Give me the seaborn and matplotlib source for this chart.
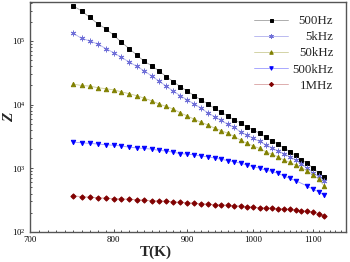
import numpy as np
import pandas as pd
import matplotlib
matplotlib.use("Agg")
import matplotlib.pyplot as plt
import matplotlib.ticker as mticker
import seaborn as sns

# temperatures (K), 10 K step
temps = list(range(750, 1130, 10))
temps_500k = [t for t in temps if t != 1080]

# log10(Z)
logz_500hz = [5.55, 5.47, 5.37, 5.27, 5.19, 5.09, 4.98, 4.88, 4.78, 4.68,
              4.61, 4.53, 4.44, 4.36, 4.28, 4.21, 4.14, 4.07, 4.01, 3.94,
              3.88, 3.82, 3.76, 3.71, 3.65, 3.60, 3.55, 3.49, 3.43, 3.38,
              3.32, 3.26, 3.20, 3.13, 3.08, 3.00, 2.93, 2.86]
logz_5khz = [5.12, 5.04, 5.00, 4.95, 4.88, 4.815, 4.74, 4.67, 4.60, 4.53,
             4.45, 4.37, 4.29, 4.21, 4.14, 4.07, 4.01, 3.94, 3.87, 3.81,
             3.75, 3.69, 3.64, 3.57, 3.52, 3.47, 3.42, 3.37, 3.32, 3.27,
             3.23, 3.18, 3.13, 3.07, 3.00, 2.93, 2.87, 2.80]
logz_50khz = [4.32, 4.30, 4.29, 4.265, 4.25, 4.23, 4.20, 4.17, 4.14, 4.10,
              4.06, 4.01, 3.97, 3.93, 3.87, 3.82, 3.77, 3.72, 3.68, 3.63,
              3.59, 3.55, 3.50, 3.44, 3.39, 3.35, 3.31, 3.26, 3.22, 3.18,
              3.13, 3.09, 3.05, 3.01, 2.96, 2.895, 2.83, 2.72]
logz_500khz = [3.41, 3.40, 3.39, 3.38, 3.37, 3.36, 3.35, 3.33, 3.32, 3.31,
               3.30, 3.28, 3.27, 3.25, 3.23, 3.22, 3.21, 3.19, 3.18, 3.16,
               3.14, 3.12, 3.10, 3.08, 3.05, 3.025, 3.00, 2.97, 2.95, 2.92,
               2.88, 2.84, 2.805, 2.72, 2.67, 2.63, 2.58]
logz_1mhz = [2.565, 2.554, 2.545, 2.538, 2.529, 2.523, 2.518, 2.513, 2.507, 2.498,
             2.491, 2.487, 2.482, 2.471, 2.466, 2.46, 2.45, 2.444, 2.435, 2.429,
             2.424, 2.419, 2.408, 2.408, 2.397, 2.388, 2.381, 2.377, 2.372, 2.366,
             2.361, 2.356, 2.345, 2.334, 2.325, 2.309, 2.287, 2.256]

labels = ["500Hz", "5kHz", "50kHz", "500kHz", "1MHz"]

sns.set_style("ticks")
plt.rcParams["font.family"] = ["Liberation Serif", "DejaVu Serif"]
plt.rcParams["mathtext.fontset"] = "stix"

fig = plt.figure(figsize=(3.5, 2.62), dpi=100)
ax = fig.add_axes([0.086, 0.115, 0.903, 0.877])

series = [
    (temps, logz_500hz, "#000000", "#a0a0a0", "s", 2.7),
    (temps, logz_5khz, "#7070d8", "#b0b0ee", (6, 2, 0), 4.0),
    (temps, logz_50khz, "#808000", "#cccc98", "^", 3.2),
    (temps_500k, logz_500khz, "#0000ff", "#9a9aff", "v", 3.2),
    (temps, logz_1mhz, "#800000", "#d8a0a0", "D", 2.7),
]
for (tx, lz, mc, lc, mk, ms), lab in zip(series, labels):
    sns.lineplot(x=np.array(tx), y=10 ** np.array(lz), ax=ax, label=lab,
                 color=lc, linewidth=0.6, marker=mk, markersize=ms,
                 markerfacecolor=mc, markeredgecolor=mc, markeredgewidth=0.7)

ax.set_xscale("log")
ax.set_yscale("log")
ax.set_xlim(700, 1160)
ax.set_ylim(1e2, 4.07e5)
ax.xaxis.set_major_locator(mticker.FixedLocator([700, 800, 900, 1000, 1100]))
ax.xaxis.set_major_formatter(mticker.StrMethodFormatter("{x:.0f}"))
ax.xaxis.set_minor_locator(mticker.FixedLocator(list(range(710, 1160, 10))))
ax.xaxis.set_minor_formatter(mticker.NullFormatter())
ax.yaxis.set_major_locator(mticker.LogLocator(base=10))
ax.yaxis.set_major_formatter(mticker.LogFormatterMathtext())
ax.yaxis.set_minor_locator(mticker.LogLocator(base=10, subs=np.arange(2, 10)))
ax.yaxis.set_minor_formatter(mticker.NullFormatter())
ax.tick_params(which="both", direction="in", labelsize=6.3, colors="#333333",
               labelcolor="black", width=0.6, pad=3)
ax.tick_params(which="major", length=2.5)
ax.tick_params(which="minor", length=1.5)
for sp in ax.spines.values():
    sp.set_linewidth(1.0)
    sp.set_color("#555555")

ax.set_xlabel("T(K)", fontsize=11, fontweight="bold")
ax.set_ylabel("Z", fontsize=11, fontweight="bold", fontstyle="italic")
ax.xaxis.set_label_coords(0.396, -0.06)
ax.yaxis.set_label_coords(-0.045, 0.5)

leg = ax.legend(loc="upper right", frameon=False, fontsize=9.3,
                handlelength=2.6, handletextpad=0.35, labelspacing=0.32,
                borderaxespad=0.6, markerscale=0.8)
fig.canvas.draw()
widths = [t.get_window_extent().width for t in leg.get_texts()]
for t, w in zip(leg.get_texts(), widths):
    t.set_x(max(widths) - w)

fig.savefig("out.png", dpi=100)
